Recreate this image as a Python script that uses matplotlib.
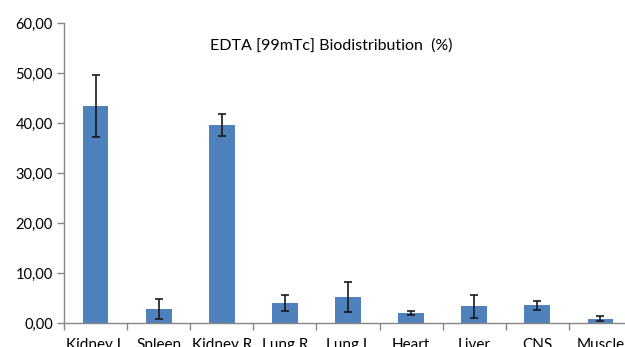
import matplotlib.pyplot as plt
import numpy as np
from matplotlib.ticker import FuncFormatter

organs = ['Kidney L', 'Spleen', 'Kidney R', 'Lung R', 'Lung L', 'Heart', 'Liver', 'CNS', 'Muscle']
uptake = [43.4, 2.8, 39.6, 4.0, 5.2, 2.0, 3.4, 3.6, 0.9]
errors = [6.2, 1.95, 2.2, 1.55, 2.95, 0.45, 2.3, 0.9, 0.5]

plt.rcParams['font.family'] = ['Lato', 'DejaVu Sans']

fig = plt.figure(figsize=(6.25, 3.47), dpi=100)
ax = fig.add_axes([64 / 625, 24 / 347, 568 / 625, 300 / 347])

x = np.arange(len(organs))
ax.bar(x, uptake, width=0.41, color='#4F81BD', zorder=2)
ax.errorbar(x, uptake, yerr=errors, fmt='none', ecolor='#1a1a1a',
            elinewidth=1.2, capsize=3, capthick=1.2, zorder=3)

ax.set_xlim(-0.5, len(organs) - 0.5)
ax.set_ylim(0, 60)
ax.set_yticks(range(0, 61, 10))
ax.yaxis.set_major_formatter(FuncFormatter(lambda v, p: f'{v:.2f}'.replace('.', ',')))

ax.set_xticks(x)
ax.set_xticklabels(organs)
ax.set_xticks(np.arange(-0.5, len(organs), 1), minor=True)
ax.tick_params(axis='x', which='major', length=0, pad=11, labelsize=11)
ax.tick_params(axis='x', which='minor', length=5, color='#868686', width=1)
ax.tick_params(axis='y', length=5, color='#868686', width=1, labelsize=10.5, pad=3)

for s in ['top', 'right']:
    ax.spines[s].set_visible(False)
for s in ['left', 'bottom']:
    ax.spines[s].set_color('#868686')
    ax.spines[s].set_linewidth(1)

ax.text(0.47, 0.925, 'EDTA [99mTc] Biodistribution  (%)', transform=ax.transAxes,
        ha='center', va='center', fontsize=11.5)

fig.savefig('out.png', dpi=100)
